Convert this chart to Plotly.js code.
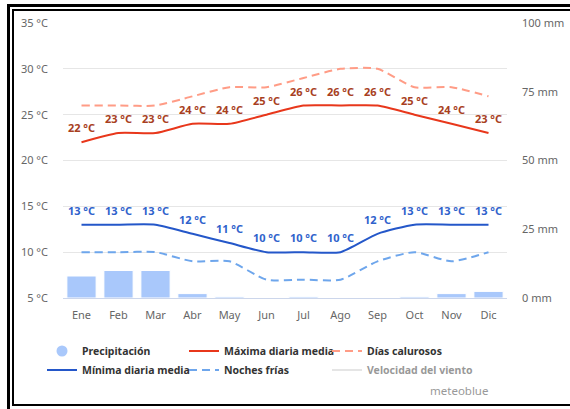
<!DOCTYPE html>
<html>
<head>
<meta charset="utf-8">
<script src="https://cdn.plot.ly/plotly-3.0.1.min.js"></script>
<style>
  html, body { margin:0; padding:0; width:570px; height:409px; overflow:hidden; background:#fff; }
  #outer { position:absolute; left:7px; top:4px; width:700px; height:500px; border:3px solid #000; box-sizing:border-box; }
  #inner { position:absolute; left:12px; top:9px; width:700px; height:397px; border:2px solid #000; box-sizing:border-box; }
  #chart { position:absolute; left:0; top:0; width:570px; height:409px; }
</style>
</head>
<body>
<div id="outer"></div>
<div id="inner"></div>
<div id="chart"></div>
<script>
const months = ["Ene","Feb","Mar","Abr","May","Jun","Jul","Ago","Sep","Oct","Nov","Dic"];
const precipitation = [8, 10, 10, 1.6, 0.5, 0, 0.5, 0, 0, 0.5, 1.6, 2.4];
const maxDaily = [22, 23, 23, 24, 24, 25, 26, 26, 26, 25, 24, 23];
const hotDays = [26, 26, 26, 27, 28, 28, 29, 30, 30, 28, 28, 27];
const minDaily = [13, 13, 13, 12, 11, 10, 10, 10, 12, 13, 13, 13];
const coldNights = [10, 10, 10, 9, 9, 7, 7, 7, 9, 10, 9, 10];

const FAM = "Noto Sans, DejaVu Sans, sans-serif";
const labelFont = {family: FAM, size: 11, weight: "bold"};
const fmt = v => v + " °C";
const SM = 0.6;

const traces = [
  {type:"bar", x: months, y: precipitation, yaxis:"y2", name:"Precipitación",
   marker:{color:"#a9c8fb", line:{color:"#ffffff", width:1}}, showlegend:false, hoverinfo:"y"},
  {type:"scatter", mode:"markers", x:[null], y:[null], name:"Precipitación",
   marker:{symbol:"circle", size:11, color:"#a9c8fb"}, legend:"legend"},
  {type:"scatter", mode:"lines+markers+text", x: months, y: minDaily, name:"Mínima diaria media",
   line:{color:"#2457c9", width:2, shape:"spline", smoothing:SM},
   marker:{size:10, color:"rgba(0,0,0,0)"},
   text: minDaily.map(fmt), textposition:"top center",
   textfont: Object.assign({color:"#2f62cc"}, labelFont), legend:"legend"},
  {type:"scatter", mode:"lines+markers+text", x: months, y: maxDaily, name:"Máxima diaria media",
   line:{color:"#e8371b", width:2, shape:"spline", smoothing:SM},
   marker:{size:10, color:"rgba(0,0,0,0)"},
   text: maxDaily.map(fmt), textposition:"top center",
   textfont: Object.assign({color:"#a8401e"}, labelFont), legend:"legend2"},
  {type:"scatter", mode:"lines", x: months, y: coldNights, name:"Noches frías",
   line:{color:"#6ea6ec", width:2, dash:"8px,5px", shape:"spline", smoothing:SM}, legend:"legend2"},
  {type:"scatter", mode:"lines", x: months, y: hotDays, name:"Días calurosos",
   line:{color:"#ff9c86", width:2, dash:"8px,5px", shape:"spline", smoothing:SM}, legend:"legend3"},
  {type:"scatter", mode:"lines", x: months, y: hotDays, name:"Velocidad del viento",
   visible:"legendonly", line:{color:"#cccccc", width:2}, legend:"legend3"}
];

const tickFont = {family: FAM, size: 11, color: "#666666"};
function leg(px) {
  return {
    orientation:"v", xref:"container", yref:"container",
    x: px/570, xanchor:"left", y: 1 - 336.5/409, yanchor:"top",
    traceorder:"normal",
    font: {family: FAM, size: 10.5, color:"#333333", weight:"bold"},
    bgcolor:"rgba(0,0,0,0)", itemclick:false, itemdoubleclick:false
  };
}

const layout = {
  width: 570, height: 409,
  margin: {l: 63, r: 63, t: 23, b: 111, pad: 0, autoexpand: false},
  paper_bgcolor: "rgba(0,0,0,0)",
  plot_bgcolor: "rgba(0,0,0,0)",
  showlegend: true,
  bargap: 0.21,
  xaxis: {
    type:"category", range:[-0.5, 11.5], showgrid:false, zeroline:false,
    showline:true, linecolor:"#ccd6eb", linewidth:1, automargin:false,
    ticks:"", tickfont: tickFont, ticklabelstandoff: 7, fixedrange:true
  },
  yaxis: {
    range:[5, 35], dtick:5, tick0:5, ticksuffix:" °C", showgrid:true, gridcolor:"#e6e6e6",
    zeroline:false, showline:false, ticks:"", tickfont: tickFont, ticklabelstandoff: 14,
    fixedrange:true, automargin:false
  },
  yaxis2: {
    overlaying:"y", side:"right", range:[0, 100], dtick:25, tick0:0, ticksuffix:" mm",
    showgrid:false, zeroline:false, showline:false, ticks:"", tickfont: tickFont,
    ticklabelstandoff: 14, fixedrange:true, automargin:false
  },
  legend: leg(42),
  legend2: leg(184),
  legend3: leg(327),
  annotations: [{
    text:"meteoblue", xref:"paper", yref:"paper", x:(490-63)/444, xanchor:"right",
    y: -(390-298)/275, yanchor:"middle", showarrow:false,
    font:{family:FAM, size:11.5, color:"#999999"}
  }]
};

Plotly.newPlot("chart", traces, layout, {displayModeBar:false, staticPlot:true});
</script>
</body>
</html>
